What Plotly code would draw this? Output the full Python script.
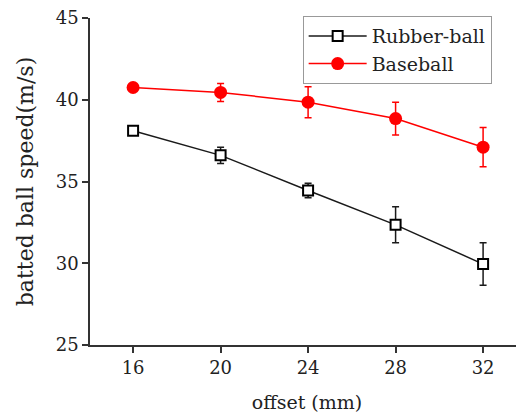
import plotly.graph_objects as go

offset = [16, 20, 24, 28, 32]
rubber = [38.1, 36.6, 34.45, 32.35, 29.95]
rubber_err = [0.12, 0.5, 0.45, 1.1, 1.3]
baseball = [40.75, 40.45, 39.85, 38.85, 37.1]
baseball_err = [0.2, 0.55, 0.95, 1.0, 1.2]
y_ticks = [25, 30, 35, 40, 45]

FONT = "DejaVu Serif"

fig = go.Figure()
fig.add_trace(go.Scatter(
    x=offset, y=rubber, name="Rubber-ball", mode="lines+markers",
    line=dict(color="#1a1a1a", width=1.5),
    marker=dict(symbol="square", size=10, color="white", line=dict(color="black", width=2)),
    error_y=dict(type="data", array=rubber_err, visible=True, color="#1a1a1a", thickness=1.5, width=3.5),
))
fig.add_trace(go.Scatter(
    x=offset, y=baseball, name="Baseball", mode="lines+markers",
    line=dict(color="#ff0000", width=1.5),
    marker=dict(symbol="circle", size=13, color="#ff0000"),
    error_y=dict(type="data", array=baseball_err, visible=True, color="#ff0000", thickness=1.5, width=3.5),
))

fig.update_layout(
    width=516, height=406,
    margin=dict(l=82, r=0, t=10, b=69),
    paper_bgcolor="white", plot_bgcolor="white",
    font=dict(family=FONT, size=18, color="#222222"),
    showlegend=True,
    legend=dict(x=0.49, y=1.006, xanchor="left", yanchor="top",
                bordercolor="#999999", borderwidth=1, bgcolor="white",
                font=dict(family=FONT, size=19), itemwidth=58,
                tracegroupgap=0),
    xaxis=dict(range=[14.03, 33.87], tickvals=offset, showgrid=False, zeroline=False,
               automargin=False,
               showline=True, linecolor="#333333", linewidth=1.5,
               ticks="outside", ticklen=6, tickcolor="#333333", tickwidth=1.5,
               title=dict(text="offset (mm)", standoff=18, font=dict(size=19))),
    yaxis=dict(range=[25, 45], tickvals=y_ticks, showgrid=False, zeroline=False,
               automargin=False, ticklabeloverflow="allow",
               showline=True, linecolor="#333333", linewidth=1.5,
               ticks="outside", ticklen=6, tickcolor="#333333", tickwidth=1.5,
               title=dict(text="batted ball speed(m/s)", standoff=16, font=dict(size=22))),
)

fig.write_html("out.html")
